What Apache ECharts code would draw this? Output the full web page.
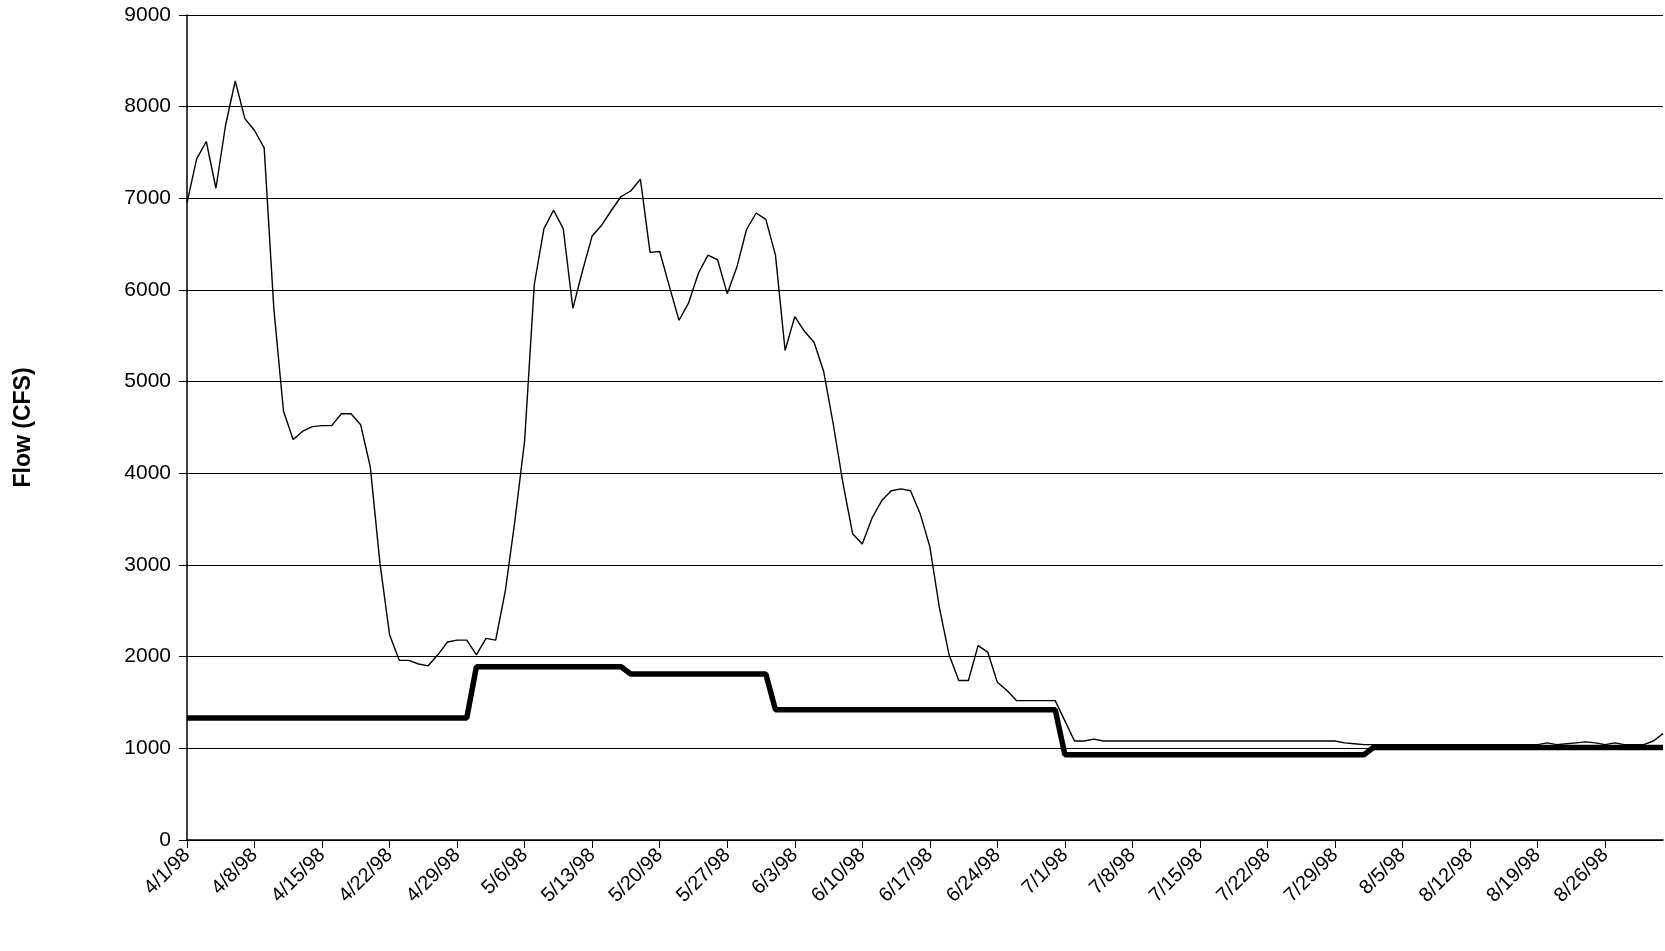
<!DOCTYPE html>
<html>
<head>
<meta charset="UTF-8"/>
<title>Flow</title>
<script src="https://cdn.jsdelivr.net/npm/echarts@6/dist/echarts.min.js"></script>
<style>html,body{margin:0;padding:0;background:#fff}#chart{width:1665px;height:951px}</style>
</head>
<body>
<div id="chart"></div>
<script>
// daily dates 4/1/98 .. 9/1/98
var days = [];
for (var i = 0; i < 154; i++) {
  var d = new Date(1998, 3, 1 + i);
  days.push((d.getMonth() + 1) + '/' + d.getDate() + '/98');
}

// measured flow (thin line)
var flow = [
  6950,7430,7620,7110,7800,8280,7870,7740,7550,5800,
  4680,4370,4460,4510,4520,4520,4650,4650,4530,4070,
  3020,2240,1960,1960,1920,1900,2020,2160,2180,2180,
  2020,2200,2180,2720,3490,4360,6060,6670,6870,6670,
  5800,6210,6590,6710,6870,7020,7080,7210,6410,6420,
  6040,5670,5860,6180,6380,6330,5960,6250,6660,6840,
  6770,6380,5340,5710,5550,5430,5110,4530,3890,3340,
  3230,3510,3700,3810,3830,3810,3560,3200,2530,2020,
  1740,1740,2120,2050,1720,1630,1520,1520,1520,1520,
  1520,1300,1080,1080,1100,1080,1080,1080,1080,1080,
  1080,1080,1080,1080,1080,1080,1080,1080,1080,1080,
  1080,1080,1080,1080,1080,1080,1080,1080,1080,1080,
  1060,1050,1040,1040,1040,1040,1040,1040,1040,1040,
  1040,1040,1040,1040,1040,1040,1040,1040,1040,1040,
  1040,1060,1040,1050,1060,1070,1060,1040,1060,1040,
  1040,1040,1080,1160
];

// target / release flow (thick line), as [start day, value] steps
var steps = [[0,1330],[30,1890],[46,1810],[61,1420],[91,930],[123,1010]];
var target = [];
for (var i = 0; i < days.length; i++) {
  var v = steps[0][1];
  for (var s = 0; s < steps.length; s++) if (i >= steps[s][0]) v = steps[s][1];
  target.push(v);
}

var yTicks = [0, 9000, 1000];

var chart = echarts.init(document.getElementById('chart'));
chart.setOption({
  animation: false,
  textStyle: { fontFamily: 'Liberation Sans, Arial, sans-serif' },
  grid: { left: 187, right: 2, top: 15, bottom: 111 },
  xAxis: {
    type: 'category',
    data: days,
    boundaryGap: false,
    axisLine: { lineStyle: { color: '#000', width: 1.5 } },
    axisTick: { interval: 6, length: 8, lineStyle: { color: '#000' } },
    axisLabel: { interval: 6, rotate: 45, color: '#000', fontSize: 20, margin: 12 },
    splitLine: { show: false }
  },
  yAxis: {
    type: 'value',
    min: yTicks[0], max: yTicks[1], interval: yTicks[2],
    name: 'Flow (CFS)',
    nameLocation: 'middle',
    nameGap: 152,
    nameTextStyle: { fontWeight: 'bold', fontSize: 23, color: '#000' },
    axisLine: { show: true, lineStyle: { color: '#000', width: 1.5 } },
    axisTick: { show: true, length: 8, lineStyle: { color: '#000' } },
    axisLabel: { color: '#000', fontSize: 21, margin: 16, formatter: function (v) { return String(v); } },
    splitLine: { lineStyle: { color: '#000', width: 1.2 } }
  },
  series: [
    { type: 'line', data: flow, symbol: 'none', lineStyle: { color: '#000', width: 1.4 } },
    { type: 'line', data: target, symbol: 'none', lineStyle: { color: '#000', width: 5.5 } }
  ]
});
</script>
</body>
</html>
